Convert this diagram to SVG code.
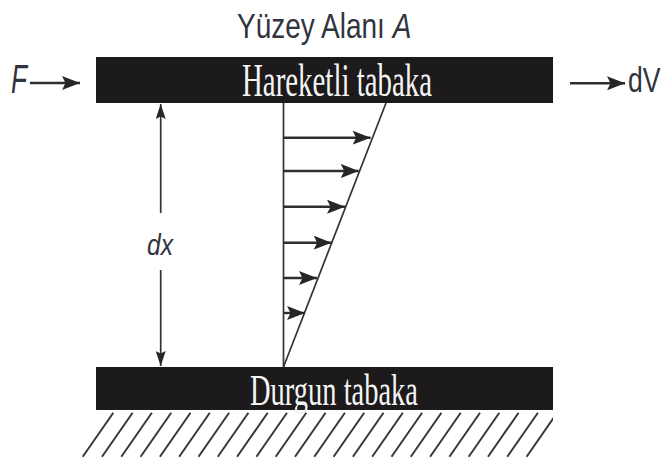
<svg xmlns="http://www.w3.org/2000/svg" width="668" height="463" viewBox="0 0 668 463">
<defs>
<style>
.bar{fill:#1c1a1b}
.ln{stroke:#333;stroke-width:1.7;fill:none}
.ar{stroke:#2e2e2e;stroke-width:2.4;fill:none}
.sans{font-family:"Liberation Sans",Arial,sans-serif;fill:#30343e}
.serif{font-family:"Liberation Serif","Times New Roman",serif;fill:#f4f4f4}
.hatch{stroke:#383838;stroke-width:2}
</style>
<marker id="ah" viewBox="0 0 18 14" refX="18" refY="7" markerWidth="18" markerHeight="14" markerUnits="userSpaceOnUse" orient="auto">
<path d="M0,0 L18,7 L0,14 L3.5,7 Z" fill="#262626"/>
</marker>
<marker id="ahs" viewBox="0 0 15 10" refX="15" refY="5" markerWidth="15" markerHeight="10" markerUnits="userSpaceOnUse" orient="auto-start-reverse">
<path d="M0,0 L15,5 L0,10 L2.5,5 Z" fill="#262626"/>
</marker>
<clipPath id="hc"><rect x="60" y="410" width="493" height="53"/></clipPath>
</defs>
<rect width="668" height="463" fill="#fff"/>

<g id="title">
<text class="sans" font-size="35" transform="translate(237,38) scale(0.8,1)">Yüzey Alanı <tspan font-style="italic">A</tspan></text>
</g>

<g id="moving-plate">
<rect class="bar" x="96" y="57" width="457" height="46"/>
<text class="serif" x="242" y="96" font-size="46" textLength="190" lengthAdjust="spacingAndGlyphs">Hareketli tabaka</text>
</g>

<g id="fixed-plate">
<rect class="bar" x="96" y="367" width="457" height="43"/>
<text class="serif" x="250" y="405" font-size="45" textLength="168" lengthAdjust="spacingAndGlyphs">Durgun tabaka</text>
</g>

<g id="ground">
<g clip-path="url(#hc)" class="hatch">
<path d="M113.3,412.7 l-30.6,44 M132.6,412.7 l-30.6,44 M151.9,412.7 l-30.6,44 M171.2,412.7 l-30.6,44 M190.5,412.7 l-30.6,44 M209.8,412.7 l-30.6,44 M229.1,412.7 l-30.6,44 M248.4,412.7 l-30.6,44 M267.7,412.7 l-30.6,44 M287,412.7 l-30.6,44 M306.3,412.7 l-30.6,44 M325.6,412.7 l-30.6,44 M344.9,412.7 l-30.6,44 M364.2,412.7 l-30.6,44 M383.5,412.7 l-30.6,44 M402.8,412.7 l-30.6,44 M422.1,412.7 l-30.6,44 M441.4,412.7 l-30.6,44 M460.7,412.7 l-30.6,44 M480,412.7 l-30.6,44 M499.3,412.7 l-30.6,44 M518.6,412.7 l-30.6,44 M537.9,412.7 l-30.6,44 M557.2,412.7 l-30.6,44"/>
</g>
</g>

<g id="force-label">
<text class="sans" font-size="40" font-style="italic" x="11" y="92.5" textLength="16" lengthAdjust="spacingAndGlyphs">F</text>
</g>

<g id="velocity-label">
<text class="sans" font-size="35" transform="translate(628,92) scale(0.76,1)">dV</text>
</g>

<g id="gap-label">
<text class="sans" font-size="30" font-style="italic" x="147" y="255" textLength="26" lengthAdjust="spacingAndGlyphs">dx</text>
</g>

<g id="connectors">
<line class="ar" x1="570" y1="83.3" x2="625" y2="83.3" marker-end="url(#ah)"/>
<line class="ar" x1="30" y1="83" x2="80" y2="83" marker-end="url(#ah)"/>
<line class="ln" x1="160.7" y1="104" x2="160.7" y2="213" marker-start="url(#ahs)"/>
<line class="ln" x1="160.7" y1="270" x2="160.7" y2="366" marker-end="url(#ahs)"/>
<line class="ln" x1="283.5" y1="103" x2="283.5" y2="367"/>
<line class="ln" x1="283.5" y1="367" x2="386" y2="103"/>
<line class="ar" x1="283.5" y1="137.7" x2="370.6" y2="137.7" marker-end="url(#ah)"/>
<line class="ar" x1="283.5" y1="171" x2="358.7" y2="171" marker-end="url(#ah)"/>
<line class="ar" x1="283.5" y1="206.7" x2="345" y2="206.7" marker-end="url(#ah)"/>
<line class="ar" x1="283.5" y1="242.7" x2="331.7" y2="242.7" marker-end="url(#ah)"/>
<line class="ar" x1="283.5" y1="278" x2="317" y2="278" marker-end="url(#ah)"/>
<line class="ar" x1="283.5" y1="313" x2="305" y2="313" marker-end="url(#ah)"/>
</g>
</svg>
